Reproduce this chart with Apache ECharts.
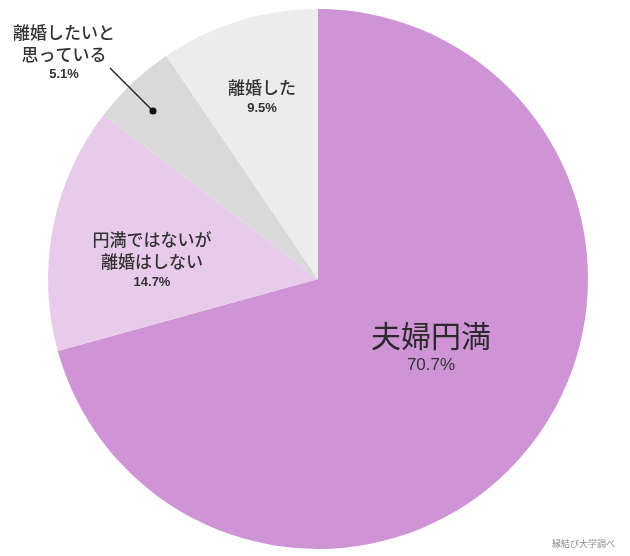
<!DOCTYPE html>
<html>
<head>
<meta charset="utf-8">
<script src="https://cdn.jsdelivr.net/npm/echarts@6/dist/echarts.min.js"></script>
<style>
  html, body { margin: 0; padding: 0; background: #ffffff; }
  #chart { width: 630px; height: 556px; }
</style>
</head>
<body>
<div id="chart"></div>
<script>
// Survey answers, clockwise from 12 o'clock
const categories = ['夫婦円満', '円満ではないが\n離婚はしない', '離婚したいと\n思っている', '離婚した'];
const shares = [70.7, 14.7, 5.1, 9.5];
const sliceColors = ['#cf94d6', '#e8cbeb', '#d9d9d9', '#ececec'];
const sourceNote = '縁結び大学調べ';

// Label anchor points (block centres) for each slice
const labelSpots = [[431, 349], [152, 260], [64, 52], [262, 97]];
// Leader from the small slice out to its label
const leaderLine = [[153, 111], [110, 68]];

const FONT = '"Noto Sans CJK JP", "Noto Sans", sans-serif';

function labelText(name, value, idx) {
  const nameTag = idx === 0 ? 'big' : 'n';
  const pctTag = idx === 0 ? 'bigp' : (idx === 2 ? 'ps' : 'p');
  const lines = name.split('\n').map(s => '{' + nameTag + '|' + s + '}');
  return lines.join('\n') + '\n{' + pctTag + '|' + value + '%}';
}

const chart = echarts.init(document.getElementById('chart'), null, { renderer: 'canvas' });

const data = categories.map((c, i) => ({
  name: c,
  value: shares[i],
  itemStyle: { color: sliceColors[i] }
}));

chart.setOption({
  animation: false,
  backgroundColor: '#ffffff',
  title: {
    text: sourceNote,
    right: 10,
    bottom: 3,
    textStyle: { fontFamily: FONT, fontSize: 9, fontWeight: 'normal', color: '#8a8a8a' }
  },
  graphic: [{
    type: 'polyline',
    shape: { points: leaderLine },
    style: { stroke: '#222', lineWidth: 1.5, fill: null },
    z: 100
  }, {
    type: 'circle',
    shape: { cx: leaderLine[0][0], cy: leaderLine[0][1], r: 3.5 },
    style: { fill: '#111' },
    z: 101
  }],
  series: [{
    type: 'pie',
    center: [318, 279],
    radius: [0, 270],
    startAngle: 90,
    clockwise: true,
    silent: true,
    data: data,
    itemStyle: { borderWidth: 0 },
    label: {
      show: true,
      position: 'inside',
      overflow: 'none',
      align: 'center',
      color: '#333',
      fontFamily: FONT,
      formatter: p => labelText(p.name, p.value, p.dataIndex),
      rich: {
        big: { fontFamily: FONT, fontSize: 30, lineHeight: 32, color: '#2a2a2a', align: 'center' },
        bigp: { fontFamily: '"Liberation Sans", sans-serif', fontSize: 17, lineHeight: 26, color: '#333', align: 'center' },
        n: { fontFamily: FONT, fontSize: 17, lineHeight: 22, color: '#333', fontWeight: 500, align: 'center' },
        p: { fontFamily: '"Liberation Sans", sans-serif', fontSize: 13, lineHeight: 18, color: '#333', fontWeight: 'bold', align: 'center' },
        ps: { fontFamily: '"Liberation Sans", sans-serif', fontSize: 13, lineHeight: 16, color: '#333', fontWeight: 'bold', align: 'center' }
      }
    },
    labelLine: { show: false },
    labelLayout: function (params) {
      const spot = labelSpots[params.dataIndex];
      return { x: spot[0], y: spot[1], align: 'center', verticalAlign: 'middle' };
    }
  }]
});
</script>
</body>
</html>
